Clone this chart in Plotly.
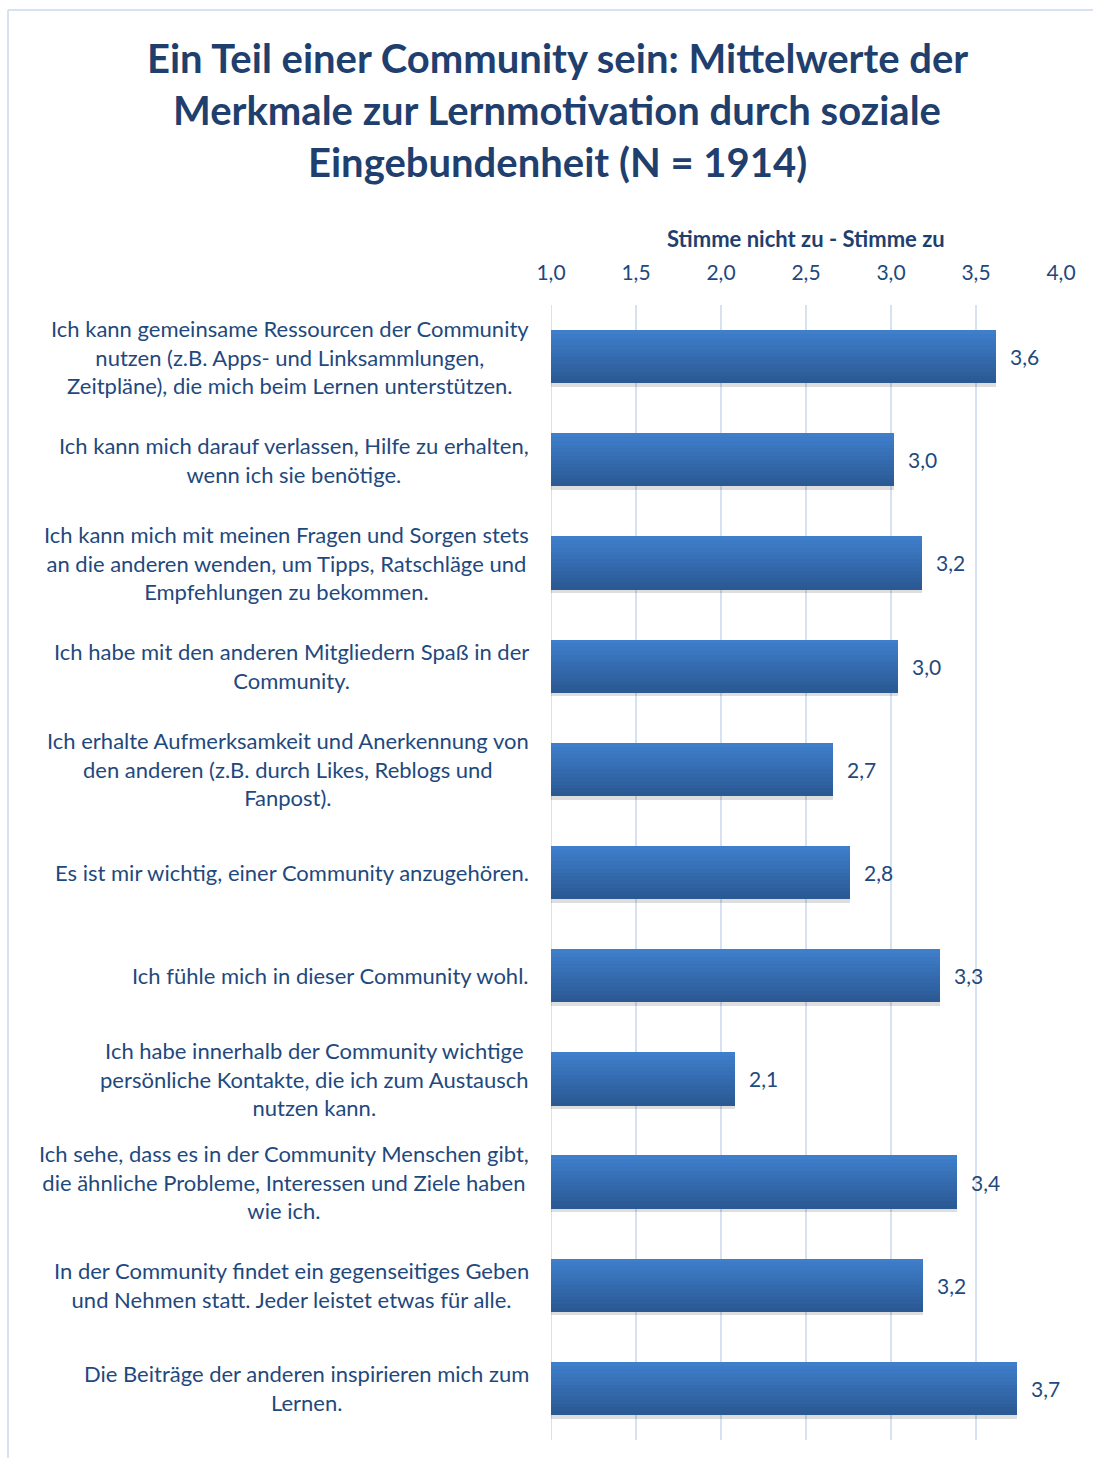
import plotly.graph_objects as go

# ---- data ----
categories = [
    "Ich kann gemeinsame Ressourcen der Community<br>nutzen (z.B. Apps- und Linksammlungen,<br>Zeitpläne), die mich beim Lernen unterstützen.",
    "Ich kann mich darauf verlassen, Hilfe zu erhalten,<br>wenn ich sie benötige.",
    "Ich kann mich mit meinen Fragen und Sorgen stets<br>an die anderen wenden, um Tipps, Ratschläge und<br>Empfehlungen zu bekommen.",
    "Ich habe mit den anderen Mitgliedern Spaß in der<br>Community.",
    "Ich erhalte Aufmerksamkeit und Anerkennung von<br>den anderen (z.B. durch Likes, Reblogs und<br>Fanpost).",
    "Es ist mir wichtig, einer Community anzugehören.",
    "Ich fühle mich in dieser Community wohl.",
    "Ich habe innerhalb der Community wichtige<br>persönliche Kontakte, die ich zum Austausch<br>nutzen kann.",
    "Ich sehe, dass es in der Community Menschen gibt,<br>die ähnliche Probleme, Interessen und Ziele haben<br>wie ich.",
    "In der Community findet ein gegenseitiges Geben<br>und Nehmen statt. Jeder leistet etwas für alle.",
    "Die Beiträge der anderen inspirieren mich zum<br>Lernen.",
]
values = [3.62, 3.02, 3.18, 3.04, 2.66, 2.76, 3.29, 2.08, 3.39, 3.19, 3.74]
tick_vals = [1.0, 1.5, 2.0, 2.5, 3.0, 3.5, 4.0]
tick_text = ["1,0", "1,5", "2,0", "2,5", "3,0", "3,5", "4,0"]
title_lines = [
    "Ein Teil einer Community sein: Mittelwerte der",
    "Merkmale zur Lernmotivation durch soziale",
    "Eingebundenheit (N = 1914)",
]
axis_title = "Stimme nicht zu - Stimme zu"

value_text = [f"{v:.1f}".replace(".", ",") for v in values]

FONT = "Lato"
TXT = "#1F497D"
TITLE_C = "#1F3F6E"
GRID = "#D6E2F1"

fig = go.Figure()

BAR_W = 0.515
base = [1.0] * len(values)
x_len = [v - 1.0 for v in values]

# shadow
fig.add_trace(go.Bar(
    y=categories, x=x_len, base=base, orientation="h",
    width=BAR_W, offset=-BAR_W / 2 + 0.035,
    marker=dict(color="rgba(0,0,0,0.13)", line=dict(width=0)),
    hoverinfo="skip", showlegend=False,
))

# gradient strips
N = 14
top = (0x3E, 0x7E, 0xCB)
bot = (0x2B, 0x59, 0x94)
sw = BAR_W / N
for i in range(N):
    t = i / (N - 1)
    c = tuple(round(top[k] + (bot[k] - top[k]) * t) for k in range(3))
    fig.add_trace(go.Bar(
        y=categories, x=x_len, base=base, orientation="h",
        width=sw * 1.02, offset=-BAR_W / 2 + i * sw,
        marker=dict(color="rgb(%d,%d,%d)" % c, line=dict(width=0)),
        hoverinfo="skip", showlegend=False,
    ))

annotations = []
# category labels
for cat in categories:
    annotations.append(dict(
        x=-0.039, xref="paper", y=cat, yref="y",
        text=cat, showarrow=False, xanchor="right", yanchor="middle",
        align="center", font=dict(family=FONT, size=22, color=TXT),
    ))
# value labels
for cat, v, t in zip(categories, values, value_text):
    annotations.append(dict(
        x=v, xref="x", y=cat, yref="y", text=t, showarrow=False,
        xanchor="left", yanchor="middle", xshift=12,
        font=dict(family=FONT, size=21, color=TXT),
    ))
# title
for line, yy in zip(title_lines, [1.2176, 1.1718, 1.126]):
    annotations.append(dict(
        x=0.0118, xref="paper", y=yy, yref="paper", text="<b>%s</b>" % line,
        showarrow=False, xanchor="center", yanchor="middle",
        font=dict(family=FONT, size=40, color=TITLE_C),
    ))
# axis title
annotations.append(dict(
    x=0.5, xref="paper", y=1.059, yref="paper", text="<b>%s</b>" % axis_title,
    showarrow=False, xanchor="center", yanchor="middle",
    font=dict(family=FONT, size=22, color=TITLE_C),
))

shapes = [
    dict(type="line", xref="paper", yref="paper",
         x0=(8 - 551) / 510, x1=(1100 - 551) / 510,
         y0=(1440 - 10) / 1135, y1=(1440 - 10) / 1135,
         line=dict(color=GRID, width=2), layer="below"),
    dict(type="line", xref="paper", yref="paper",
         x0=(8 - 551) / 510, x1=(8 - 551) / 510,
         y0=(1440 - 10) / 1135, y1=(1440 - 1470) / 1135,
         line=dict(color=GRID, width=2), layer="below"),
    # gridline at the axis start (x = 1,0)
    dict(type="line", xref="x", yref="paper",
         x0=tick_vals[0], x1=tick_vals[0], y0=0, y1=1,
         line=dict(color=GRID, width=2), layer="below"),
]

fig.update_layout(
    width=1093, height=1458,
    margin=dict(l=551, r=32, t=305, b=18),
    paper_bgcolor="white", plot_bgcolor="white",
    barmode="overlay", bargap=0,
    showlegend=False,
    annotations=annotations,
    shapes=shapes,
    font=dict(family=FONT, color=TXT),
)
fig.update_xaxes(
    range=[1, 4], side="top", tickvals=tick_vals, ticktext=tick_text,
    showgrid=True, gridcolor=GRID, gridwidth=2,
    zeroline=False, showline=False, ticks="",
    tickfont=dict(family=FONT, size=21, color=TXT),
    ticklabelstandoff=20,
)
fig.update_yaxes(
    categoryorder="array", categoryarray=categories,
    autorange="reversed", showticklabels=False, showgrid=False,
    zeroline=False, showline=False, ticks="",
)

fig.write_html("out.html")
